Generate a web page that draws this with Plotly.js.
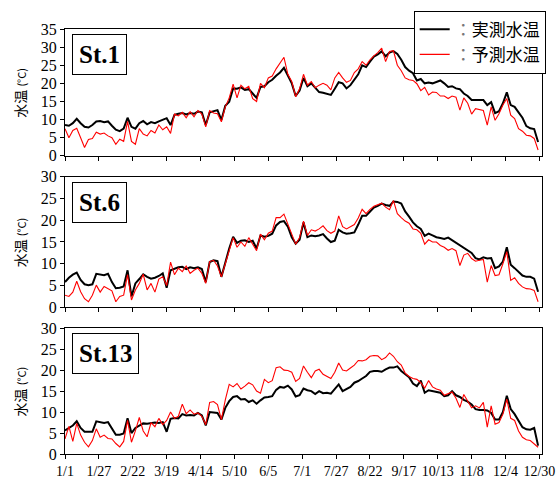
<!DOCTYPE html>
<html><head><meta charset="utf-8">
<script src="https://cdn.plot.ly/plotly-3.0.1.min.js"></script>
<style>html,body{margin:0;padding:0;background:#fff}</style>
</head><body><div id="chart" style="width:557px;height:481px"></div>
<script>
const STEP = 3; // days between samples
const tickDays = [0,26,52,78,104,130,156,182,208,234,260,286,312,338,364];
const tickLabels = ["1/1","1/27","2/22","3/19","4/14","5/10","6/5","7/1","7/27","8/22","9/17","10/13","11/8","12/4","12/30"];
const stations = ["St.1","St.6","St.13"];
const obsName = "実測水温";
const predName = "予測水温";

const obs1 = [8.5,8.3,9.0,10.2,9.0,8.0,7.8,8.5,9.5,9.6,
 9.3,9.5,8.3,7.2,6.8,7.5,10.5,8.0,7.5,9.0,
 9.6,8.7,9.3,9.0,9.5,10.0,10.4,8.5,11.3,11.6,
 11.8,11.4,11.8,11.6,12.2,12.0,8.5,12.0,12.4,12.6,
 9.9,13.8,14.9,18.6,18.5,18.9,18.2,18.4,17.2,16.0,
 19.0,19.2,20.3,21.0,22.1,23.0,24.3,22.0,20.0,16.5,
 18.0,21.5,19.2,20.0,18.8,17.6,17.4,17.2,16.8,18.5,
 20.3,20.0,18.6,19.5,21.0,22.5,25.0,24.5,26.0,27.4,
 28.0,28.8,27.5,28.5,28.9,28.1,26.5,24.5,23.5,22.8,
 20.8,21.2,20.0,20.2,20.0,20.3,20.8,20.0,19.0,19.2,
 18.6,18.4,17.2,16.5,15.4,15.4,15.3,15.4,14.0,14.8,
 11.8,12.3,14.5,17.5,14.0,13.5,12.0,10.5,8.2,7.6,
 7.4,3.8];
const pred1 = [7.5,5.0,7.0,7.6,5.0,2.3,4.5,4.8,6.5,6.0,
 6.3,5.5,5.0,3.2,4.6,4.0,9.5,4.0,3.2,7.5,
 6.0,5.5,7.0,6.3,8.5,7.2,8.0,6.2,11.5,11.0,
 12.0,10.5,12.2,10.8,12.5,11.5,8.0,12.5,11.8,11.6,
 9.4,13.5,16.0,19.8,16.0,19.5,18.5,19.2,15.8,15.0,
 20.0,18.8,21.5,22.0,24.0,25.8,27.2,22.5,20.5,16.3,
 18.5,22.5,19.5,20.5,18.8,19.5,20.0,19.5,18.2,21.5,
 23.0,21.5,20.3,20.8,23.0,24.0,26.0,25.0,26.5,27.6,
 28.5,29.7,26.0,28.8,29.0,25.0,23.5,21.5,21.0,20.8,
 19.9,18.0,18.9,16.8,17.6,17.5,16.5,16.5,15.8,16.5,
 16.2,12.6,16.0,14.5,11.5,13.0,12.8,12.5,8.5,13.5,
 9.8,11.6,14.0,15.8,11.2,10.3,7.5,6.8,5.7,5.5,
 4.8,1.6];
const obs2 = [5.8,6.8,7.5,8.0,6.3,5.3,5.1,5.3,7.7,7.6,
 7.4,7.7,5.8,4.4,4.5,4.8,8.5,2.5,5.5,6.5,
 7.6,7.0,6.6,6.8,7.2,7.8,4.5,8.5,8.8,9.2,
 9.3,8.8,9.2,9.0,9.2,8.8,5.8,10.4,10.8,10.6,
 7.0,10.4,13.5,16.2,14.8,15.3,15.4,15.0,15.3,13.5,
 16.5,16.2,16.4,16.9,18.8,19.6,19.8,18.5,16.1,14.6,
 15.5,19.5,16.1,16.5,16.3,16.5,16.8,15.8,15.0,15.3,
 17.8,17.2,16.9,17.0,17.2,19.0,21.0,21.0,22.0,22.9,
 23.3,23.8,23.5,23.3,24.3,24.2,23.8,22.0,20.8,19.5,
 18.6,18.0,16.4,16.9,16.5,16.1,15.9,15.7,16.0,15.4,
 15.0,14.3,13.8,13.2,12.5,11.3,11.0,11.5,11.2,11.3,
 9.0,9.4,10.5,13.8,9.8,9.0,8.2,7.3,7.0,7.0,
 6.6,3.6];
const pred2 = [2.8,2.5,3.5,6.0,3.6,2.0,1.3,2.8,5.1,3.5,
 4.8,4.2,3.8,1.3,2.5,2.8,7.5,1.7,4.0,5.5,
 7.6,4.0,5.5,3.5,6.5,7.0,5.0,10.4,7.5,9.0,
 8.2,9.5,7.8,8.5,9.0,7.8,5.5,10.5,10.8,9.5,
 7.0,10.0,13.0,16.0,13.8,15.0,14.0,16.0,14.5,13.0,
 16.8,15.5,17.0,17.5,20.6,20.6,21.4,19.0,16.5,14.5,
 16.0,19.8,16.5,17.8,17.5,18.0,18.7,17.6,17.0,17.5,
 21.0,18.5,18.0,18.5,19.0,20.5,22.5,21.5,22.5,23.2,
 23.5,23.9,23.0,22.4,24.5,21.5,20.6,19.8,19.3,18.0,
 17.8,17.0,14.5,15.5,15.0,15.0,14.2,13.8,13.1,13.5,
 13.0,9.6,12.0,12.4,11.2,10.6,10.8,11.0,5.8,9.6,
 7.3,7.5,10.0,12.8,6.2,6.8,5.5,4.7,4.3,4.2,
 3.9,1.3];
const obs3 = [5.6,6.3,6.8,7.8,6.2,5.3,5.3,5.3,7.8,7.6,
 7.4,7.6,6.0,4.6,4.6,4.9,8.5,5.0,6.2,6.8,
 7.3,7.2,7.4,7.5,7.4,7.6,5.3,8.4,8.6,8.5,
 9.5,9.2,9.3,9.2,9.8,9.2,6.8,10.0,9.9,9.8,
 8.2,11.0,12.6,13.6,13.8,13.0,13.1,12.4,12.8,12.0,
 12.8,13.5,13.6,13.8,15.3,16.0,15.8,16.3,15.4,13.7,
 14.0,15.6,15.2,15.0,14.3,15.0,14.5,14.6,14.4,15.5,
 16.6,15.0,15.6,16.0,17.0,17.4,18.0,18.6,19.6,19.8,
 19.8,19.6,20.2,20.6,20.6,20.9,19.8,19.0,18.3,16.8,
 16.2,17.5,14.6,15.2,15.0,14.9,14.6,13.8,14.0,15.0,
 14.0,13.6,12.9,12.5,11.8,10.7,10.5,10.5,10.4,9.8,
 8.2,8.2,10.0,13.9,10.7,9.5,8.0,6.4,5.9,5.8,
 6.2,2.0];
const pred3 = [3.6,6.6,3.0,7.3,4.5,2.8,1.7,3.2,6.0,4.0,
 4.5,3.7,3.6,2.5,1.7,3.0,8.0,2.8,5.5,8.7,
 5.5,4.1,7.5,6.5,8.5,7.0,8.0,10.0,8.5,9.0,
 11.9,9.6,10.5,9.5,9.8,9.0,7.0,12.3,12.5,11.8,
 8.2,12.9,16.6,16.0,16.8,15.5,16.2,17.0,16.5,15.0,
 14.5,17.8,17.0,17.5,20.6,20.8,20.0,19.9,19.5,17.3,
 18.0,21.0,19.5,18.2,19.8,20.2,19.0,18.5,18.0,19.5,
 21.7,20.0,19.8,20.5,21.2,22.3,22.2,22.5,23.3,23.5,
 23.4,22.5,23.0,24.1,23.3,22.0,21.2,19.3,18.5,18.0,
 17.8,17.0,15.7,17.5,16.0,15.5,15.2,14.0,14.5,14.8,
 13.3,11.1,14.2,12.5,11.0,11.5,11.0,12.3,6.4,11.5,
 7.1,7.5,9.5,13.1,8.5,8.0,5.5,4.0,3.4,3.2,
 2.4,1.6];

const days = obs1.map((_, i) => i * STEP);
const obsAll = [obs1, obs2, obs3];
const predAll = [pred1, pred2, pred3];
const yMax = [35, 30, 30];
const domains = [[0.7016, 1.0], [0.345, 0.6527], [0.0, 0.296]];

const serif = "Liberation Serif, Times New Roman, serif";
const cjk = "Noto Sans CJK JP, sans-serif";
const colon = '<span style="color:#777">：</span>';

const traces = [];
const layout = {
  width: 557, height: 481,
  margin: {l: 65, r: 11, t: 27, b: 27},
  paper_bgcolor: "#fff", plot_bgcolor: "#fff",
  showlegend: true,
  legend: {x: 0.731, y: 1.043, xanchor: "left", yanchor: "top",
    bgcolor: "#fff", bordercolor: "#000", borderwidth: 1,
    font: {family: cjk, size: 17, color: "#000"}, tracegroupgap: 0},
  annotations: [],
};

for (let p = 0; p < 3; p++) {
  const sfx = p === 0 ? "" : String(p + 1);
  traces.push({x: days, y: obsAll[p], type: "scatter", mode: "lines",
    xaxis: "x" + sfx, yaxis: "y" + sfx, name: colon + obsName,
    showlegend: p === 0, line: {color: "#000", width: 2}});
  traces.push({x: days, y: predAll[p], type: "scatter", mode: "lines",
    xaxis: "x" + sfx, yaxis: "y" + sfx, name: colon + predName,
    showlegend: p === 0, line: {color: "#ff0000", width: 1.1}});
  layout["xaxis" + sfx] = {
    domain: [0, 1], anchor: "y" + sfx, range: [0, 366],
    tickmode: "array", tickvals: tickDays, ticktext: tickLabels,
    showticklabels: p === 2, ticks: "outside", ticklen: 4, tickcolor: "#000",
    ticklabeloverflow: "allow",
    showline: true, linecolor: "#000", linewidth: 1, mirror: true,
    showgrid: false, zeroline: false,
    tickfont: {family: serif, size: 14, color: "#000"}
  };
  layout["yaxis" + sfx] = {
    domain: domains[p], anchor: "x" + sfx, range: [0, yMax[p]], dtick: 5,
    ticks: "outside", ticklen: 4, tickcolor: "#000",
    showline: true, linecolor: "#000", linewidth: 1, mirror: true,
    showgrid: false, zeroline: false,
    tickfont: {family: serif, size: 16, color: "#000"}
  };
  layout.annotations.push({
    xref: "x" + sfx + " domain", yref: "y" + sfx + " domain",
    x: 0.0146, y: 0.96, xanchor: "left", yanchor: "top",
    text: "<b>" + stations[p] + "</b>", showarrow: false,
    font: {family: serif, size: 25, color: "#000"},
    bordercolor: "#000", borderwidth: 1, borderpad: 6, bgcolor: "#fff"
  });
  layout.annotations.push({
    xref: "paper", yref: "y" + sfx + " domain",
    x: -0.0936, y: 0.5, xanchor: "center", yanchor: "middle",
    textangle: -90, showarrow: false,
    text: '水温 <span style="font-size:11px">(°C)</span>',
    font: {family: cjk, size: 14, color: "#000"}
  });
}

Plotly.newPlot("chart", traces, layout, {displayModeBar: false, staticPlot: true});
</script></body></html>
